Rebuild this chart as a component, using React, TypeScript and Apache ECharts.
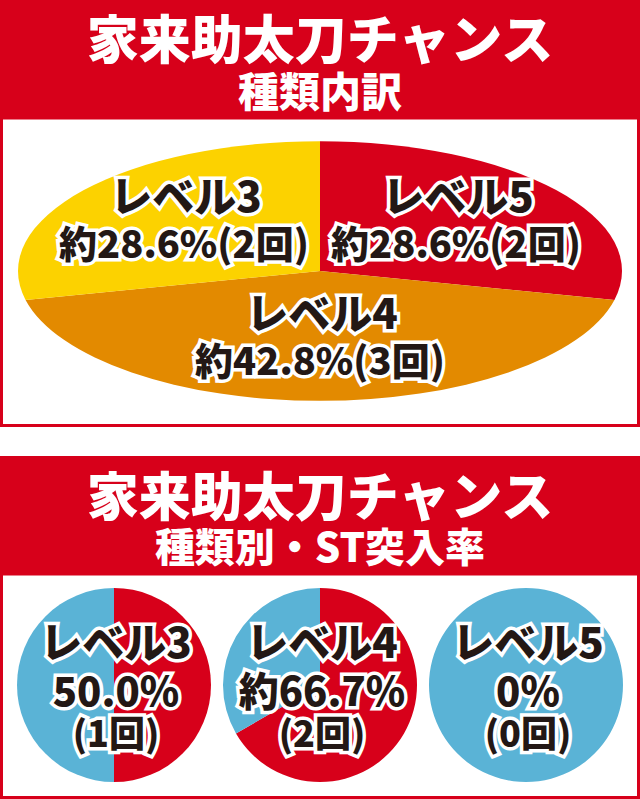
import React, { useRef, useEffect } from 'react';
import * as echarts from 'echarts';

// top chart: occurrences by level (clockwise from 12 o'clock)
const levelNames = ['レベル5', 'レベル4', 'レベル3'];
const levelCounts = [2, 3, 2];
const levelRates = ['約28.6%', '約42.8%', '約28.6%'];
const levelColors = ['#d7001a', '#e38a00', '#fcd200'];

// bottom charts: ST entries per level
const stNames = ['レベル3', 'レベル4', 'レベル5'];
const stHits = [1, 2, 0];
const stTotals = [2, 3, 2];
const stRates = ['50.0%', '約66.7%', '0%'];

const RED = '#d7001a';
const BLUE = '#5ab3d6';
const INK = '#231815';
const FONT = '"Noto Sans CJK JP", "Noto Sans", sans-serif';

const labelStyle = (text: string, size: number) => ({
  text,
  fill: INK,
  fontSize: size,
  fontWeight: 900,
  fontFamily: FONT,
  stroke: '#fff',
  lineWidth: 7,
  align: 'center',
  verticalAlign: 'middle',
});

const App: React.FC = () => {
  const chartRef = useRef<HTMLDivElement>(null);

  useEffect(() => {
    if (!chartRef.current) return;
    const chart = echarts.init(chartRef.current, null, { renderer: 'svg' });

    const total = levelCounts.reduce((a, b) => a + b, 0);
    // ellipse geometry
    const ecx = 320;
    const ecy = 271;
    const erx = 302;
    const ery = 130;

    // label positions for the ellipse slices (same order as levelNames)
    const ellLabelPos = [
      [458, 193],
      [322, 310],
      [186, 193],
    ];

    const ellipseLabels: any[] = [];
    levelNames.forEach((name, i) => {
      const [x, y] = ellLabelPos[i];
      ellipseLabels.push({ type: 'text', x, y, z: 10, style: labelStyle(name, 42) });
      ellipseLabels.push({
        type: 'text',
        x: x - 2,
        y: y + 48,
        z: 10,
        style: labelStyle(`${levelRates[i]}(${levelCounts[i]}回)`, 38),
      });
    });

    const pieCenters = [114, 320, 526];
    const stLabels: any[] = [];
    stNames.forEach((name, i) => {
      const x = pieCenters[i] + 2;
      stLabels.push({ type: 'text', x, y: 639, z: 10, style: labelStyle(name, 42) });
      stLabels.push({ type: 'text', x, y: 689, z: 10, style: labelStyle(stRates[i], 40) });
      stLabels.push({ type: 'text', x, y: 731, z: 10, style: labelStyle(`(${stHits[i]}回)`, 36) });
    });

    const pies = stNames.map((name, i) => ({
      type: 'pie',
      name,
      center: [pieCenters[i], 685],
      radius: 97,
      startAngle: 90,
      clockwise: true,
      minAngle: 0,
      silent: true,
      label: { show: false },
      labelLine: { show: false },
      itemStyle: { borderWidth: 0 },
      emphasis: { disabled: true },
      data: [
        { name: 'ST', value: stHits[i], itemStyle: { color: RED } },
        { name: '-', value: stTotals[i] - stHits[i], itemStyle: { color: BLUE } },
      ],
    }));

    const headerText = (text: string, y: number, size: number) => ({
      type: 'text',
      x: 320,
      y,
      style: {
        text,
        fill: '#fff',
        fontSize: size,
        fontWeight: 900,
        fontFamily: FONT,
        align: 'center',
        verticalAlign: 'middle',
      },
    });

    const option: any = {
      animation: false,
      graphic: [
        { type: 'rect', shape: { x: 0, y: 0, width: 640, height: 119 }, style: { fill: RED } },
        {
          type: 'rect',
          shape: { x: 1.5, y: 118, width: 637, height: 307.5 },
          style: { fill: '#fff', stroke: RED, lineWidth: 3 },
        },
        headerText('家来助太刀チャンス', 36, 52),
        headerText('種類内訳', 89, 41),
        { type: 'rect', shape: { x: 0, y: 456, width: 640, height: 119 }, style: { fill: RED } },
        {
          type: 'rect',
          shape: { x: 1.5, y: 574, width: 637, height: 223.5 },
          style: { fill: '#fff', stroke: RED, lineWidth: 3 },
        },
        headerText('家来助太刀チャンス', 493, 52),
        headerText('種類別・ST突入率', 545, 40),
        ...ellipseLabels,
        ...stLabels,
      ],
      series: [
        {
          type: 'custom',
          coordinateSystem: 'none',
          silent: true,
          z: 2,
          data: levelCounts.map((v) => [v]),
          renderItem: (params: any, api: any) => {
            const idx = params.dataIndex;
            const before = levelCounts.slice(0, idx).reduce((a, b) => a + b, 0);
            const start = -Math.PI / 2 + (before / total) * Math.PI * 2;
            const end = start + (api.value(0) / total) * Math.PI * 2;
            return {
              type: 'sector',
              x: ecx,
              y: ecy,
              scaleY: ery / erx,
              shape: { cx: 0, cy: 0, r0: 0, r: erx, startAngle: start, endAngle: end, clockwise: true },
              style: { fill: levelColors[idx] },
            };
          },
        },
        ...pies,
      ],
    };

    chart.setOption(option);

    return () => {
      chart.dispose();
    };
  }, []);

  return (
    <div
      ref={chartRef}
      style={{ position: 'fixed', left: 0, top: 0, width: 640, height: 799, background: '#fff' }}
    />
  );
};

export default App;
